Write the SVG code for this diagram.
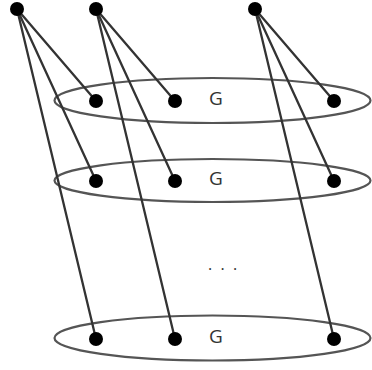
<svg xmlns="http://www.w3.org/2000/svg" width="372" height="370" viewBox="0 0 372 370">
<style>
.ring{fill:none;stroke:#555;stroke-width:2.2}
.edge{stroke:#333;stroke-width:2.3;stroke-linecap:round}
.dot{fill:#000}
.lbl{font-family:"Open Sans","DejaVu Sans",sans-serif;font-size:19px;fill:#333;text-anchor:middle}
</style>
<rect width="372" height="370" fill="#fff"/>
<g id="rings">
<ellipse id="ring1" class="ring" cx="212.5" cy="100.5" rx="158" ry="22.5"/>
<ellipse id="ring2" class="ring" cx="212.5" cy="180.5" rx="158" ry="21.5"/>
<ellipse id="ring3" class="ring" cx="212.5" cy="338" rx="158" ry="22.5"/>
</g>
<g id="connectors">
<line class="edge" x1="17" y1="9" x2="96" y2="101"/>
<line class="edge" x1="17" y1="9" x2="96" y2="181"/>
<line class="edge" x1="17" y1="9" x2="96" y2="339"/>
<line class="edge" x1="96" y1="9" x2="175" y2="101"/>
<line class="edge" x1="96" y1="9" x2="175" y2="181"/>
<line class="edge" x1="96" y1="9" x2="175" y2="339"/>
<line class="edge" x1="255" y1="9" x2="334" y2="101"/>
<line class="edge" x1="255" y1="9" x2="334" y2="181"/>
<line class="edge" x1="255" y1="9" x2="334" y2="339"/>
</g>
<g id="t1"><circle class="dot" cx="17" cy="9" r="7"/></g>
<g id="t2"><circle class="dot" cx="96" cy="9" r="7"/></g>
<g id="t3"><circle class="dot" cx="255" cy="9" r="7"/></g>
<g id="a1"><circle class="dot" cx="96" cy="101" r="7"/></g>
<g id="a2"><circle class="dot" cx="175" cy="101" r="7"/></g>
<g id="a3"><circle class="dot" cx="334" cy="101" r="7"/></g>
<g id="b1"><circle class="dot" cx="96" cy="181" r="7"/></g>
<g id="b2"><circle class="dot" cx="175" cy="181" r="7"/></g>
<g id="b3"><circle class="dot" cx="334" cy="181" r="7"/></g>
<g id="c1"><circle class="dot" cx="96" cy="339" r="7"/></g>
<g id="c2"><circle class="dot" cx="175" cy="339" r="7"/></g>
<g id="c3"><circle class="dot" cx="334" cy="339" r="7"/></g>
<g id="labels">
<text class="lbl" x="216" y="105">G</text>
<text class="lbl" x="216" y="185">G</text>
<text class="lbl" x="216" y="343">G</text>
<text class="lbl" x="210 222.5 235" y="269.5" style="font-size:16px">...</text>
</g>
</svg>
